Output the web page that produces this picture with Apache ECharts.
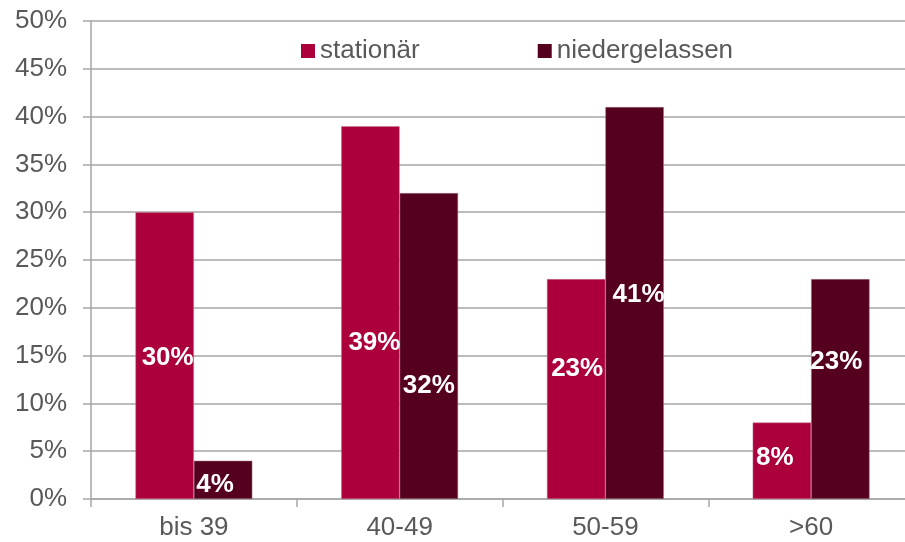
<!DOCTYPE html>
<html>
<head>
<meta charset="utf-8">
<script src="https://cdn.jsdelivr.net/npm/echarts@6/dist/echarts.min.js"></script>
<style>
  html, body { margin: 0; padding: 0; background: #fff; overflow: hidden; }
  #wrap { width: 905px; height: 542px; overflow: hidden; }
  #chart { width: 914px; height: 542px; }
</style>
</head>
<body>
<div id="wrap"><div id="chart"></div></div>
<script>
// Altersgruppen
const categories = ['bis 39', '40-49', '50-59', '>60'];
// Anteile in Prozent
const stationaer = [30, 39, 23, 8];
const niedergelassen = [4, 32, 41, 23];
const seriesNames = ['stationär', 'niedergelassen'];

// nudges [x, y] of the value labels inside the bars (px)
const labelShiftStationaer = [[3, 2], [4, 30], [1, -20], [-7, -3]];
const labelShiftNiedergelassen = [[-8, 5], [0, 40], [4, -8], [-4, -27]];

const gray = '#595959';
const gridGray = '#a6a6a6';
const font = '"Liberation Sans", Arial, sans-serif';

function items(values, shifts) {
  return values.map((v, i) => ({
    value: v,
    label: { offset: shifts[i] }
  }));
}

const labelStyle = {
  show: true,
  position: 'inside',
  formatter: '{c}%',
  color: '#ffffff',
  fontFamily: font,
  fontWeight: 'bold',
  fontSize: 26
};

const chart = echarts.init(document.getElementById('chart'));
chart.setOption({
  animation: false,
  textStyle: { fontFamily: font },
  grid: { left: 91, right: 0, top: 21, bottom: 43, containLabel: false },
  legend: {
    left: 296,
    top: 33,
    itemWidth: 14,
    itemHeight: 14,
    itemGap: 118,
    icon: 'rect',
    itemStyle: { borderWidth: 0 },
    textStyle: { color: gray, fontSize: 26, fontFamily: font },
    data: seriesNames
  },
  xAxis: {
    type: 'category',
    data: categories,
    axisLine: { lineStyle: { color: gridGray, width: 1.5 } },
    axisTick: { show: true, length: 8, lineStyle: { color: gridGray, width: 1.5 } },
    axisLabel: { color: gray, fontSize: 26, margin: 16, fontFamily: font }
  },
  yAxis: {
    type: 'value',
    min: 0,
    max: 50,
    interval: 5,
    axisLine: { show: true, lineStyle: { color: gridGray, width: 1.5 } },
    axisTick: { show: true, length: 8, lineStyle: { color: gridGray, width: 1.5 } },
    axisLabel: { formatter: '{value}%', color: gray, fontSize: 26, margin: 24, fontFamily: font },
    splitLine: { lineStyle: { color: gridGray, width: 1.5 } }
  },
  series: [
    {
      name: seriesNames[0],
      type: 'bar',
      data: items(stationaer, labelShiftStationaer),
      barWidth: '28.4%',
      barGap: '0%',
      itemStyle: { color: '#ab003c', borderColor: '#c77a95', borderWidth: 0.5 },
      label: labelStyle
    },
    {
      name: seriesNames[1],
      type: 'bar',
      data: items(niedergelassen, labelShiftNiedergelassen),
      barWidth: '28.4%',
      barGap: '0%',
      itemStyle: { color: '#55001f', borderColor: '#a07a88', borderWidth: 0.5 },
      label: labelStyle
    }
  ]
});
</script>
</body>
</html>
